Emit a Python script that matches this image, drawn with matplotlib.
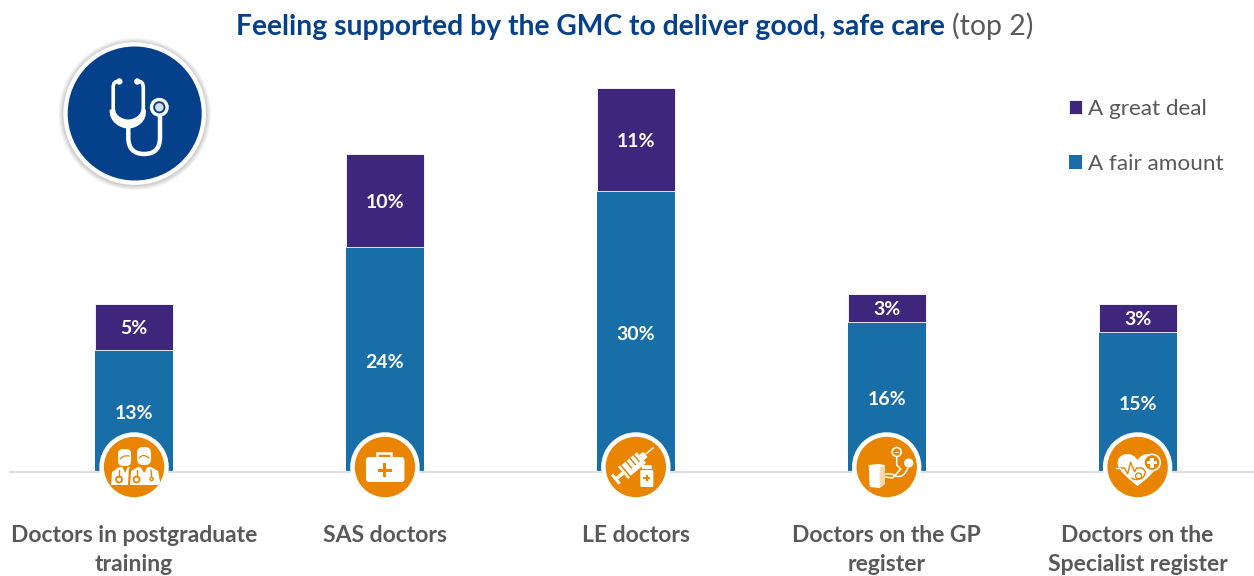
import matplotlib
matplotlib.use('Agg')
import matplotlib.pyplot as plt
from matplotlib.patches import Circle, Rectangle, FancyBboxPatch, Polygon, PathPatch
from matplotlib.path import Path
from matplotlib.transforms import Affine2D

categories = ['Doctors in postgraduate\ntraining', 'SAS doctors', 'LE doctors',
              'Doctors on the GP\nregister', 'Doctors on the\nSpecialist register']
fair_amount = [13, 24, 30, 16, 15]
great_deal = [5, 10, 11, 3, 3]
series_names = ['A great deal', 'A fair amount']
title_main = 'Feeling supported by the GMC to deliver good, safe care'
title_tail = '(top 2)'

BLUE = '#186EA6'
PURPLE = '#3F267D'
NAVY = '#05408A'
ORANGE = '#E98500'
GREY = '#595959'
WHITE = '#FFFFFF'

W, H = 1254, 576
plt.rcParams['font.family'] = ['Lato', 'DejaVu Sans']

fig = plt.figure(figsize=(W / 100, H / 100), dpi=100)

# main chart axes, baseline sits at pixel row 472
ax = fig.add_axes([10 / W, (H - 472) / H, (W - 10) / W, 412 / H])
ax.set_xlim(-0.4945, 4.464)
ax.set_ylim(0, 412 / 9.36)

x = list(range(len(categories)))
bars_fair = ax.bar(x, fair_amount, width=0.311, color=BLUE, label=series_names[1], zorder=2)
bars_great = ax.bar(x, great_deal, width=0.311, bottom=fair_amount, color=PURPLE,
                    edgecolor=WHITE, linewidth=0.6, label=series_names[0], zorder=2)

for i in x:
    ax.annotate(f'{fair_amount[i]}%', (i, fair_amount[i] / 2), xytext=(0, -1.8), textcoords='offset points',
                ha='center', va='center', color=WHITE, fontsize=14, fontweight='bold', zorder=3)
    ax.annotate(f'{great_deal[i]}%', (i, fair_amount[i] + great_deal[i] / 2), xytext=(0, -1.2),
                textcoords='offset points', ha='center', va='center', color=WHITE, fontsize=14,
                fontweight='bold', zorder=3)

for side in ['top', 'left', 'right']:
    ax.spines[side].set_visible(False)
ax.spines['bottom'].set_color('#DFDFDF')
ax.spines['bottom'].set_linewidth(1.6)
ax.set_yticks([])
ax.set_xticks(x)
ax.set_xticklabels(categories, fontsize=16.5, fontweight='bold', color=GREY, linespacing=1.44)
ax.tick_params(axis='x', length=0, pad=38.5)

ax.legend(handles=[bars_great, bars_fair], labels=series_names, loc='upper left',
          bbox_to_anchor=(1069 / W, 1 - 99 / H), bbox_transform=fig.transFigure,
          frameon=False, fontsize=16.2, labelcolor=GREY, handlelength=0.58, handleheight=0.58,
          handletextpad=0.28, labelspacing=1.55, borderpad=0, borderaxespad=0)

# title in two styles, second part follows the first
t = fig.text(236 / W, 1 - 27 / H, title_main, fontsize=20.35, fontweight='bold', color=NAVY,
             ha='left', va='center')
ax.annotate(title_tail, xy=(1, 0), xycoords=t, xytext=(5, 0), textcoords='offset points',
            fontsize=20.4, color=GREY, ha='left', va='bottom')

# overlay in pixel coordinates for the round badges
ov = fig.add_axes([0, 0, 1, 1], zorder=5)
ov.set_xlim(0, W)
ov.set_ylim(H, 0)
ov.axis('off')


def add(p):
    ov.add_patch(p)
    return p


def round_box(cx, cy, x0, y0, w, h, r, color):
    return add(FancyBboxPatch((cx + x0 + r, cy + y0 + r), w - 2 * r, h - 2 * r,
                              boxstyle=f'round,pad={r}', fc=color, ec='none'))


def stroke(cx, cy, verts, codes=None, lw=2.0, color=WHITE):
    pts = [(cx + a, cy + b) for a, b in verts]
    add(PathPatch(Path(pts, codes), fc='none', ec=color, lw=lw, capstyle='round'))


def plus(cx, cy, arm, thick, color):
    add(Rectangle((cx - arm, cy - thick / 2), 2 * arm, thick, fc=color, ec='none'))
    add(Rectangle((cx - thick / 2, cy - arm), thick, 2 * arm, fc=color, ec='none'))


def doctors_icon(cx, cy):
    # shoulders of both figures, cut flat at the bottom
    add(Polygon([(cx - 23, cy + 18), (cx - 22, cy + 5), (cx - 15, cy + 0), (cx - 4, cy + 0), (cx - 6, cy + 18)],
                fc=WHITE, ec='none'))
    add(Polygon([(cx - 4, cy + 18), (cx - 3, cy + 4), (cx + 4, cy + 0), (cx + 17, cy + 0), (cx + 24, cy + 4),
                 (cx + 26, cy + 15), (cx + 24, cy + 18)], fc=WHITE, ec='none'))
    # hair and faces
    round_box(cx, cy, -16, -18, 13, 17, 5, WHITE)
    round_box(cx, cy, 3, -20, 14, 18, 6, WHITE)
    stroke(cx, cy, [(-14, -8), (-11, -12), (-5, -11)], [Path.MOVETO, Path.CURVE3, Path.CURVE3], lw=0.9, color=ORANGE)
    stroke(cx, cy, [(5, -9), (9, -14), (15, -9)], [Path.MOVETO, Path.CURVE3, Path.CURVE3], lw=0.9, color=ORANGE)
    # open collars
    add(Polygon([(cx - 12, cy - 1), (cx - 6, cy - 1), (cx - 9, cy + 6)], fc=ORANGE, ec='none'))
    add(Polygon([(cx + 6, cy - 1), (cx + 14, cy - 1), (cx + 10, cy + 6)], fc=ORANGE, ec='none'))
    # stethoscopes
    add(Circle((cx - 15, cy + 12.5), 3, fc='none', ec=ORANGE, lw=1.3))
    add(Circle((cx + 2.5, cy + 12.5), 3, fc='none', ec=ORANGE, lw=1.3))
    add(Circle((cx + 17.5, cy + 12), 1.6, fc='none', ec=ORANGE, lw=1))
    stroke(cx, cy, [(-15, 9.5), (-15, 3)], lw=1, color=ORANGE)
    stroke(cx, cy, [(2.5, 9.5), (2.5, 3)], lw=1, color=ORANGE)
    stroke(cx, cy, [(17.5, 10), (17, 3)], lw=1, color=ORANGE)
    stroke(cx, cy, [(-4.5, 2), (-5, 18)], lw=1.2, color=ORANGE)


def medkit_icon(cx, cy):
    add(PathPatch(Path([(cx - 7.5, cy - 10), (cx - 7.5, cy - 14.5), (cx + 6.5, cy - 14.5), (cx + 6.5, cy - 10)]),
                  fc='none', ec=WHITE, lw=1.8))
    round_box(cx, cy, -19, -10, 38.5, 25, 3, WHITE)
    plus(cx, cy + 3.3, 7, 3, ORANGE)


def syringe_icon(cx, cy):
    rot = Affine2D().rotate_deg(-40).translate(cx - 2, cy - 3) + ov.transData
    shapes = [((-10, -7), 20, 14, WHITE), ((-14, -8), 2.4, 16, WHITE), ((-22, -1.8), 8, 3.6, WHITE),
              ((-25, -6), 3, 12, WHITE), ((10, -3.5), 5, 7, WHITE), ((15, -0.7), 11, 1.4, WHITE),
              ((-5, -7), 1.5, 9, ORANGE), ((0, -7), 1.5, 9, ORANGE), ((5, -7), 1.5, 9, ORANGE)]
    for xy, w, h, c in shapes:
        ov.add_patch(Rectangle(xy, w, h, fc=c, ec='none', transform=rot))
    # small bottle
    round_box(cx, cy, 6, -2, 10, 4, 1, WHITE)
    round_box(cx, cy, 4.5, 3, 13, 17, 1.5, WHITE)
    plus(cx + 11, cy + 11, 3.4, 1.4, ORANGE)


def cuff_icon(cx, cy):
    add(Polygon([(cx - 18, cy - 2), (cx - 8, cy - 3), (cx - 2, cy - 2), (cx - 2, cy + 17), (cx - 7, cy + 21),
                 (cx - 17, cy + 20)], fc=WHITE, ec='none'))
    add(Polygon([(cx - 7, cy + 0), (cx - 2, cy - 1), (cx - 2, cy + 17), (cx - 7, cy + 20)], fc='#F7D9AE', ec='none'))
    add(Circle((cx + 10, cy - 15), 4.5, fc=ORANGE, ec=WHITE, lw=1.2))
    stroke(cx, cy, [(8.5, -15), (11.5, -15)], lw=0.8)
    stroke(cx, cy, [(10, -10), (10, -2), (14, 2), (6, 11), (-1, 10)],
           [Path.MOVETO, Path.LINETO, Path.LINETO, Path.LINETO, Path.LINETO], lw=1.1)
    stroke(cx, cy, [(-1, 7), (5, 6), (9, 9)], [Path.MOVETO, Path.CURVE3, Path.CURVE3], lw=1.1)
    stroke(cx, cy, [(9, 9), (17, 12), (21, 1)], [Path.MOVETO, Path.CURVE3, Path.CURVE3], lw=1.1)
    add(Circle((cx + 22, cy - 4), 4.6, fc=WHITE, ec='none'))


def heart_icon(cx, cy):
    verts = [(0, 19), (-8, 13), (-20, 3), (-20, -4), (-20, -10), (-15, -13), (-10, -13), (-5, -13), (-2, -10),
             (0, -7), (2, -10), (5, -13), (10, -13), (15, -13), (20, -10), (20, -4), (20, 3), (8, 13), (0, 19)]
    codes = [Path.MOVETO] + [Path.CURVE4] * 18
    add(PathPatch(Path([(cx + a, cy + b) for a, b in verts], codes), fc=WHITE, ec='none'))
    add(Circle((cx + 14.5, cy - 4.5), 8.2, fc=ORANGE, ec=WHITE, lw=1.2))
    plus(cx + 14.5, cy - 4.5, 5, 3.2, WHITE)
    # pulse line through the heart
    stroke(cx, cy, [(-22, 1), (-13, 1), (-10, 7), (-7, -5), (-3, 5), (-1, 1), (4, 1)], lw=1.0, color=ORANGE)
    stroke(cx, cy, [(-22, 1), (-18, 1)], lw=1.0)
    # infant curled in the lower part
    add(Circle((cx + 1, cy + 9), 3, fc='none', ec=ORANGE, lw=1.0))
    stroke(cx, cy, [(-6, 11), (-1, 15), (6, 10), (8, 5), (5, 1)],
           [Path.MOVETO, Path.CURVE3, Path.CURVE3, Path.LINETO, Path.LINETO], lw=1.0, color=ORANGE)


icon_funcs = [doctors_icon, medkit_icon, syringe_icon, cuff_icon, heart_icon]
fig.canvas.draw()
for i, draw_icon in enumerate(icon_funcs):
    px = ax.transData.transform((i, 0))[0]
    add(Circle((px, 467), 34.7, fc=WHITE, ec='none'))
    add(Circle((px, 467), 30.2, fc=ORANGE, ec='none'))
    draw_icon(px, 467)

# stethoscope badge with a soft shadow
bx, by = 134.7, 113.5
for k in range(8):
    add(Circle((bx, by + 0.5), 71.5 + 0.6 * (8 - k), fc='#000000', alpha=0.022, ec='none'))
add(Circle((bx, by), 71.3, fc=WHITE, ec='none'))
add(Circle((bx, by), 67, fc=NAVY, ec='none'))
# ear tubes and tips
stroke(bx, by, [(-15.5, -32), (-21.5, -33), (-21.5, -26), (-21.5, -3)],
       [Path.MOVETO, Path.CURVE3, Path.CURVE3, Path.LINETO], lw=2.6)
stroke(bx, by, [(2.6, -32), (8.6, -33), (8.6, -26), (8.6, -3)],
       [Path.MOVETO, Path.CURVE3, Path.CURVE3, Path.LINETO], lw=2.6)
add(Circle((bx - 15.4, by - 32), 3.2, fc=WHITE, ec='none'))
add(Circle((bx + 2.6, by - 32), 3.2, fc=WHITE, ec='none'))
# thick U joining the ear tubes
add(PathPatch(Path([(bx - 25, by - 4), (bx - 26, by + 8), (bx - 15, by + 15), (bx - 6.5, by + 15),
                    (bx + 2, by + 15), (bx + 13, by + 8), (bx + 11, by - 4),
                    (bx + 6.5, by - 4), (bx + 6, by + 3), (bx - 2, by + 6), (bx - 6.5, by + 6),
                    (bx - 11, by + 6), (bx - 19, by + 3), (bx - 19.5, by - 4), (bx - 25, by - 4)],
                   [Path.MOVETO] + [Path.CURVE4] * 6 + [Path.LINETO] + [Path.CURVE4] * 6 + [Path.CLOSEPOLY]),
              fc=WHITE, ec='none'))
# lower tube up to the chest piece
stroke(bx, by, [(-6.4, 13), (-6.4, 24), (-6.4, 40.5), (9.5, 40.5), (25.3, 40.5), (25.3, 24), (25.3, 0)],
       [Path.MOVETO, Path.LINETO, Path.CURVE3, Path.CURVE3, Path.CURVE3, Path.CURVE3, Path.LINETO], lw=3.2)
add(Circle((bx + 24.6, by - 6.2), 7.8, fc=NAVY, ec=WHITE, lw=2.4))
add(Circle((bx + 24.6, by - 6.2), 4.2, fc='#D6DEEA', ec='none'))

fig.savefig('out.png', dpi=100)
